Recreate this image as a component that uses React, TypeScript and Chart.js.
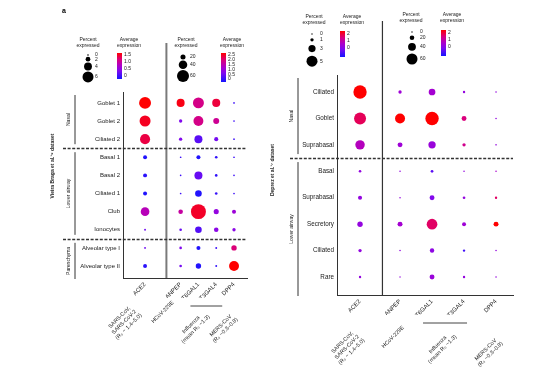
import React, { useEffect, useRef } from 'react';
import { Chart, registerables } from 'chart.js';

Chart.register(...registerables);

const FONT = "'Liberation Sans', Arial, sans-serif";

// ---------- data ----------
const genes = ['ACE2', 'ANPEP', 'ST6GAL1', 'ST3GAL4', 'DPP4'];
const virusLabels = [
  ['SARS-CoV,', 'SARS-CoV-2', '(R\u2080 ~ 1.4\u20135.0)'],
  ['HCoV-229E'],
  ['Influenza', '(mean R\u2080 ~1.3)'],
  ['MERS-CoV', '(R\u2080 ~0.3\u20130.8)'],
];

const leftRows = ['Goblet 1', 'Goblet 2', 'Ciliated 2', 'Basal 1', 'Basal 2', 'Ciliated 1', 'Club', 'Ionocytes', 'Alveolar type I', 'Alveolar type II'];
const leftGroups = ['Nasal', 'Lower airway', 'Parenchyma'];
const leftGroupStarts = [0, 3, 8];
// percent expressed: ACE2, ANPEP, ST6GAL1, ST3GAL4, DPP4
const leftPct = [
  [6.6, 37, 54, 37, 0.5],
  [6.0, 10, 48, 25, 0.5],
  [5.4, 10, 37, 14, 0.5],
  [1.5, 0.5, 14, 6, 0.5],
  [1.5, 0.3, 37, 6, 0.3],
  [1.5, 0.5, 29, 6, 0.5],
  [4.5, 17, 77, 20, 14],
  [0.2, 6, 29, 17, 10],
  [0.2, 6, 14, 2, 22],
  [1.5, 6, 22, 2, 48],
];
// average expression
const leftAvg = [
  [1.5, 2.4, 1.8, 2.2, 0.3],
  [1.4, 0.8, 1.8, 1.7, 0.3],
  [1.3, 0.8, 0.5, 0.7, 0.3],
  [0.05, 0.3, 0.1, 0.2, 0.3],
  [0.1, 0.3, 0.6, 0.2, 0.3],
  [0.05, 0.3, 0.1, 0.25, 0.3],
  [0.85, 1.6, 2.3, 1.0, 1.1],
  [0.4, 0.6, 0.45, 0.9, 0.9],
  [0.4, 0.8, 0.1, 0.3, 1.9],
  [0.1, 0.7, 0.1, 0.2, 2.5],
];
const leftSizeTicksACE2 = [0, 2, 4, 6];
const leftSizeTicksOther = [20, 40, 60];
const leftColorTicksACE2 = [1.5, 1.0, 0.5, 0];
const leftColorTicksOther = [2.5, 2.0, 1.5, 1.0, 0.5, 0];

const rightRows = ['Ciliated', 'Goblet', 'Suprabasal', 'Basal', 'Suprabasal', 'Secretory', 'Ciliated', 'Rare'];
const rightGroups = ['Nasal', 'Lower airway'];
const rightGroupStarts = [0, 3];
const rightPct = [
  [6.2, 12, 33, 6, 1],
  [5.5, 54, 75, 22, 1],
  [4.2, 22, 37, 12, 1],
  [0.6, 1, 8, 1, 1],
  [1.4, 1, 22, 8, 6],
  [2.1, 22, 58, 16, 22],
  [1.0, 1, 19, 6, 1],
  [0.5, 0.5, 22, 6, 1],
];
const rightAvg = [
  [2.0, 0.9, 0.95, 0.8, 0.8],
  [1.65, 2.0, 2.0, 1.5, 0.8],
  [1.1, 0.9, 0.85, 1.4, 0.8],
  [0.8, 0.8, 0.4, 0.8, 1.0],
  [0.8, 0.8, 0.65, 0.8, 1.6],
  [0.8, 0.95, 1.6, 0.9, 2.0],
  [0.8, 0.8, 0.75, 0.25, 0.8],
  [0.8, 0.8, 0.85, 0.8, 0.8],
];
const rightSizeTicksACE2 = [0, 1, 3, 5];
const rightSizeTicksOther = [0, 20, 40, 60];
const rightColorTicksACE2 = [2, 1, 0];
const rightColorTicksOther = [2, 1, 0];

// ---------- colour / size helpers ----------
const STOPS: [number, number[]][] = [
  [0, [20, 20, 255]],
  [0.3, [125, 10, 240]],
  [0.5, [170, 0, 205]],
  [0.75, [218, 0, 125]],
  [1, [255, 0, 0]],
];
function colorAt(t: number) {
  t = Math.max(0, Math.min(1, t));
  for (let i = 1; i < STOPS.length; i++) {
    const [t1, c1] = STOPS[i];
    const [t0, c0] = STOPS[i - 1];
    if (t <= t1) {
      const f = (t - t0) / (t1 - t0);
      const c = c0.map((v, k) => Math.round(v + (c1[k] - v) * f));
      return `rgb(${c[0]},${c[1]},${c[2]})`;
    }
  }
  return 'rgb(255,0,0)';
}
type SizeScale = { pmax: number; rmin: number; rmax: number };
const radius = (p: number, s: SizeScale) => s.rmin + (s.rmax - s.rmin) * Math.min(p, 100) / s.pmax;

type Panel = {
  id: string;
  rows: string[];
  pct: number[][];
  avg: number[][];
  groups: string[];
  groupStarts: number[];
  gap: number;
  area: { left: number; right: number; top: number; bottom: number };
  xRange: [number, number];
  yRange: [number, number];
  tickSize: number;
  ace2Size: SizeScale;
  otherSize: SizeScale;
  ace2Max: number;
  otherMax: number;
  divider: number;
  dividerTop: number;
  dividerColor: string;
  dividerWidth: number;
  dashFrom: number;
  bracketX: number;
  groupLabelX: number;
  title: string;
  titleX: number;
  titleY: number;
  sizeLegends: any[];
  colorLegends: any[];
  virusPos: { dx: number; dy: number }[];
  underline: { dx0: number; dx1: number; dy: number };
  letter?: boolean;
};

const leftPanel: Panel = {
  id: 'left',
  rows: leftRows, pct: leftPct, avg: leftAvg, groups: leftGroups, groupStarts: leftGroupStarts,
  gap: 1,
  area: { left: 123, right: 247, top: 92, bottom: 278 },
  xRange: [-1.24, 5.73],
  yRange: [-0.6, 9.66],
  tickSize: 6,
  ace2Size: { pmax: 6, rmin: 0.8, rmax: 5.5 },
  otherSize: { pmax: 60, rmin: 0.8, rmax: 6 },
  ace2Max: 1.5, otherMax: 2.5,
  divider: 1.2, dividerTop: 43, dividerColor: '#7a7a7a', dividerWidth: 2,
  dashFrom: 63, bracketX: 75, groupLabelX: 69,
  title: 'Vieira Braga et al.\u00b9\u2079 dataset', titleX: 53, titleY: 166,
  sizeLegends: [
    { cx: 88, titleY: 40, dotX: 88, firstY: 55, labelX: 95, gap: 1, values: leftSizeTicksACE2, ace2: true },
    { cx: 186, titleY: 40, dotX: 183, firstY: 57, labelX: 190, gap: 1, values: leftSizeTicksOther, ace2: false },
  ],
  colorLegends: [
    { cx: 129, titleY: 40, barX: 117, barTop: 53, barBottom: 79, labelX: 124, yTop: 55, yBottom: 76, values: leftColorTicksACE2 },
    { cx: 232, titleY: 40, barX: 221, barTop: 53, barBottom: 82, labelX: 228, yTop: 55, yBottom: 79, values: leftColorTicksOther },
  ],
  virusPos: [{ dx: -21, dy: 44 }, { dx: -18, dy: 34 }, { dx: -14, dy: 49 }, { dx: -11, dy: 50 }],
  underline: { dx0: -8, dx1: 6, dy: 28 },
  letter: true,
};

const rightPanel: Panel = {
  id: 'right',
  rows: rightRows, pct: rightPct, avg: rightAvg, groups: rightGroups, groupStarts: rightGroupStarts,
  gap: 0.25,
  area: { left: 337, right: 513, top: 75, bottom: 295 },
  xRange: [-0.72, 4.78],
  yRange: [-0.643, 7.68],
  tickSize: 6.3,
  ace2Size: { pmax: 5, rmin: 0.7, rmax: 5.5 },
  otherSize: { pmax: 60, rmin: 0.7, rmax: 5.5 },
  ace2Max: 2, otherMax: 2,
  divider: 0.7, dividerTop: 21, dividerColor: '#333', dividerWidth: 1.2,
  dashFrom: 290, bracketX: 298, groupLabelX: 292,
  title: 'Deprez et al.\u00b9\u2077 dataset', titleX: 273, titleY: 170,
  sizeLegends: [
    { cx: 314, titleY: 17, dotX: 312, firstY: 34, labelX: 320, gap: 3.5, values: rightSizeTicksACE2, ace2: true },
    { cx: 411, titleY: 15, dotX: 412, firstY: 32, labelX: 420, gap: 2.8, values: rightSizeTicksOther, ace2: false },
  ],
  colorLegends: [
    { cx: 352, titleY: 17, barX: 340, barTop: 31, barBottom: 57, labelX: 347, yTop: 34, yBottom: 48, values: rightColorTicksACE2 },
    { cx: 452, titleY: 15, barX: 441, barTop: 30, barBottom: 56, labelX: 448, yTop: 33, yBottom: 47, values: rightColorTicksOther },
  ],
  virusPos: [{ dx: -13, dy: 52 }, { dx: -7, dy: 42 }, { dx: -8, dy: 52 }, { dx: -8, dy: 57 }],
  underline: { dx0: -9, dx1: 3, dy: 28 },
};

const virusGenes = [[0], [1], [2, 3], [4]];

function line(ctx: CanvasRenderingContext2D, x0: number, y0: number, x1: number, y1: number) {
  ctx.beginPath();
  ctx.moveTo(x0, y0);
  ctx.lineTo(x1, y1);
  ctx.stroke();
}

function decorPlugin(p: Panel) {
  return {
    id: 'decor_' + p.id,
    afterDraw(chart: any) {
      const ctx: CanvasRenderingContext2D = chart.ctx;
      const xs = chart.scales.x;
      const ys = chart.scales.y;
      const area = chart.chartArea;
      const xPos = (i: number) => (i === 0 ? 0 : i + p.gap);
      ctx.save();
      ctx.fillStyle = '#1a1a1a';

      // vertical divider
      const dvx = xs.getPixelForValue(p.divider);
      ctx.strokeStyle = p.dividerColor;
      ctx.lineWidth = p.dividerWidth;
      line(ctx, dvx, p.dividerTop, dvx, area.bottom);

      // dashed group separators
      ctx.strokeStyle = '#333';
      ctx.lineWidth = 1.4;
      ctx.setLineDash([3, 1.6]);
      p.groupStarts.slice(1).forEach((s) => {
        const y = Math.round(ys.getPixelForValue(s - 0.5)) + 0.5;
        line(ctx, p.dashFrom, y, area.right, y);
      });
      ctx.setLineDash([]);

      // group brackets and labels
      ctx.strokeStyle = '#333';
      ctx.lineWidth = 1;
      ctx.font = `5px ${FONT}`;
      ctx.textAlign = 'center';
      ctx.textBaseline = 'middle';
      p.groups.forEach((g, gi) => {
        const from = p.groupStarts[gi];
        const to = gi + 1 < p.groupStarts.length ? p.groupStarts[gi + 1] - 1 : p.rows.length - 1;
        const top = gi === 0 ? area.top + 3 : ys.getPixelForValue(from - 0.5) + 4;
        const bottom = gi === p.groups.length - 1 ? area.bottom + 1 : ys.getPixelForValue(to + 0.5) - 4;
        line(ctx, p.bracketX, top, p.bracketX, bottom);
        ctx.save();
        ctx.translate(p.groupLabelX, (top + bottom) / 2);
        ctx.rotate(-Math.PI / 2);
        ctx.fillText(g, 0, 0);
        ctx.restore();
      });

      // y title
      ctx.save();
      ctx.font = `bold 5px ${FONT}`;
      ctx.translate(p.titleX, p.titleY);
      ctx.rotate(-Math.PI / 2);
      ctx.fillText(p.title, 0, 0);
      ctx.restore();

      // size legends
      p.sizeLegends.forEach((L) => {
        const sc = L.ace2 ? p.ace2Size : p.otherSize;
        ctx.font = `5px ${FONT}`;
        ctx.textAlign = 'center';
        ctx.fillStyle = '#1a1a1a';
        ctx.fillText('Percent', L.cx, L.titleY);
        ctx.fillText('expressed', L.cx, L.titleY + 6);
        let y = L.firstY;
        let prevR = 0;
        L.values.forEach((v: number, i: number) => {
          const r = radius(v, sc);
          if (i > 0) y += prevR + r + L.gap;
          ctx.fillStyle = '#000';
          ctx.beginPath();
          ctx.arc(L.dotX, y, r, 0, Math.PI * 2);
          ctx.fill();
          ctx.fillStyle = '#1a1a1a';
          ctx.textAlign = 'left';
          ctx.fillText(String(v), L.labelX, y);
          ctx.textAlign = 'center';
          prevR = r;
        });
      });

      // colour legends
      p.colorLegends.forEach((L) => {
        ctx.font = `5px ${FONT}`;
        ctx.textAlign = 'center';
        ctx.fillStyle = '#1a1a1a';
        ctx.fillText('Average', L.cx, L.titleY);
        ctx.fillText('expression', L.cx, L.titleY + 6);
        const grad = ctx.createLinearGradient(0, L.barBottom, 0, L.barTop);
        STOPS.forEach(([t]) => grad.addColorStop(t, colorAt(t)));
        ctx.fillStyle = grad;
        ctx.fillRect(L.barX, L.barTop, 5, L.barBottom - L.barTop);
        ctx.fillStyle = '#1a1a1a';
        ctx.textAlign = 'left';
        const n = L.values.length;
        L.values.forEach((v: number, i: number) => {
          const y = L.yTop + ((L.yBottom - L.yTop) * i) / (n - 1);
          const label = Number.isInteger(v) && n <= 3 ? String(v) : v === 0 ? '0' : v.toFixed(1);
          ctx.fillText(label, L.labelX, y);
        });
      });

      // virus labels
      ctx.font = `5.5px ${FONT}`;
      ctx.fillStyle = '#1a1a1a';
      ctx.textAlign = 'center';
      ctx.textBaseline = 'middle';
      virusLabels.forEach((lines, vi) => {
        const gs = virusGenes[vi];
        const gx = gs.reduce((s, g) => s + xs.getPixelForValue(xPos(g)), 0) / gs.length;
        const pos = p.virusPos[vi];
        ctx.save();
        ctx.translate(gx + pos.dx, area.bottom + pos.dy);
        ctx.rotate(-Math.PI / 4);
        const lh = 6.5;
        lines.forEach((t, li) => ctx.fillText(t, 0, (li - (lines.length - 1) / 2) * lh));
        ctx.restore();
      });

      // influenza underline
      ctx.strokeStyle = '#444';
      ctx.lineWidth = 1;
      const ux0 = xs.getPixelForValue(xPos(2)) + p.underline.dx0;
      const ux1 = xs.getPixelForValue(xPos(3)) + p.underline.dx1;
      line(ctx, ux0, area.bottom + p.underline.dy, ux1, area.bottom + p.underline.dy);

      if (p.letter) {
        ctx.font = `bold 7px ${FONT}`;
        ctx.textAlign = 'left';
        ctx.fillStyle = '#000';
        ctx.fillText('a', 62, 11);
      }
      ctx.restore();
    },
  };
}

function makeConfig(p: Panel): any {
  const xPos = (i: number) => (i === 0 ? 0 : i + p.gap);
  const points: any[] = [];
  p.rows.forEach((_, ri) => {
    genes.forEach((_g, gi) => {
      const first = gi === 0;
      points.push({
        x: xPos(gi),
        y: ri,
        r: radius(p.pct[ri][gi], first ? p.ace2Size : p.otherSize),
        c: colorAt(p.avg[ri][gi] / (first ? p.ace2Max : p.otherMax)),
      });
    });
  });
  const xAxisH = 20;
  return {
    type: 'bubble',
    data: {
      datasets: [
        {
          data: points,
          backgroundColor: (ctx: any) => (ctx.raw ? ctx.raw.c : '#000'),
          borderWidth: 0,
          hoverRadius: 0,
          hoverBorderWidth: 0,
        },
      ],
    },
    options: {
      animation: false,
      responsive: false,
      devicePixelRatio: 1,
      events: [],
      layout: {
        autoPadding: false,
        padding: { left: 0, top: p.area.top, right: 550 - p.area.right, bottom: 380 - p.area.bottom - xAxisH },
      },
      plugins: { legend: { display: false }, tooltip: { enabled: false } },
      scales: {
        x: {
          type: 'linear',
          min: p.xRange[0],
          max: p.xRange[1],
          grid: { display: false, drawTicks: false },
          border: { display: true, color: '#333', width: 1 },
          afterBuildTicks: (scale: any) => {
            scale.ticks = genes.map((_, i) => ({ value: xPos(i) }));
          },
          afterFit: (scale: any) => {
            scale.height = xAxisH;
          },
          ticks: {
            autoSkip: false,
            minRotation: 45,
            maxRotation: 45,
            padding: 3,
            color: '#1a1a1a',
            font: { family: FONT, size: 6 },
            callback: (_v: any, i: number) => genes[i],
          },
        },
        y: {
          type: 'linear',
          reverse: true,
          min: p.yRange[0],
          max: p.yRange[1],
          grid: { display: false, drawTicks: false },
          border: { display: true, color: '#333', width: 1 },
          afterBuildTicks: (scale: any) => {
            scale.ticks = p.rows.map((_, i) => ({ value: i }));
          },
          afterFit: (scale: any) => {
            scale.width = p.area.left;
          },
          ticks: {
            autoSkip: false,
            padding: 3,
            color: '#1a1a1a',
            font: { family: FONT, size: p.tickSize },
            callback: (_v: any, i: number) => p.rows[i],
          },
        },
      },
    },
    plugins: [decorPlugin(p)],
  };
}

function PanelCanvas({ panel }: { panel: Panel }) {
  const ref = useRef<HTMLCanvasElement>(null);
  useEffect(() => {
    if (!ref.current) return;
    const chart = new Chart(ref.current, makeConfig(panel));
    return () => chart.destroy();
  }, [panel]);
  return (
    <canvas
      ref={ref}
      width={550}
      height={380}
      style={{ position: 'absolute', left: 0, top: 0, width: 550, height: 380 }}
    />
  );
}

export default function App() {
  return (
    <div style={{ position: 'absolute', left: 0, top: 0, width: 550, height: 380, background: '#fff', overflow: 'hidden' }}>
      <PanelCanvas panel={leftPanel} />
      <PanelCanvas panel={rightPanel} />
    </div>
  );
}
